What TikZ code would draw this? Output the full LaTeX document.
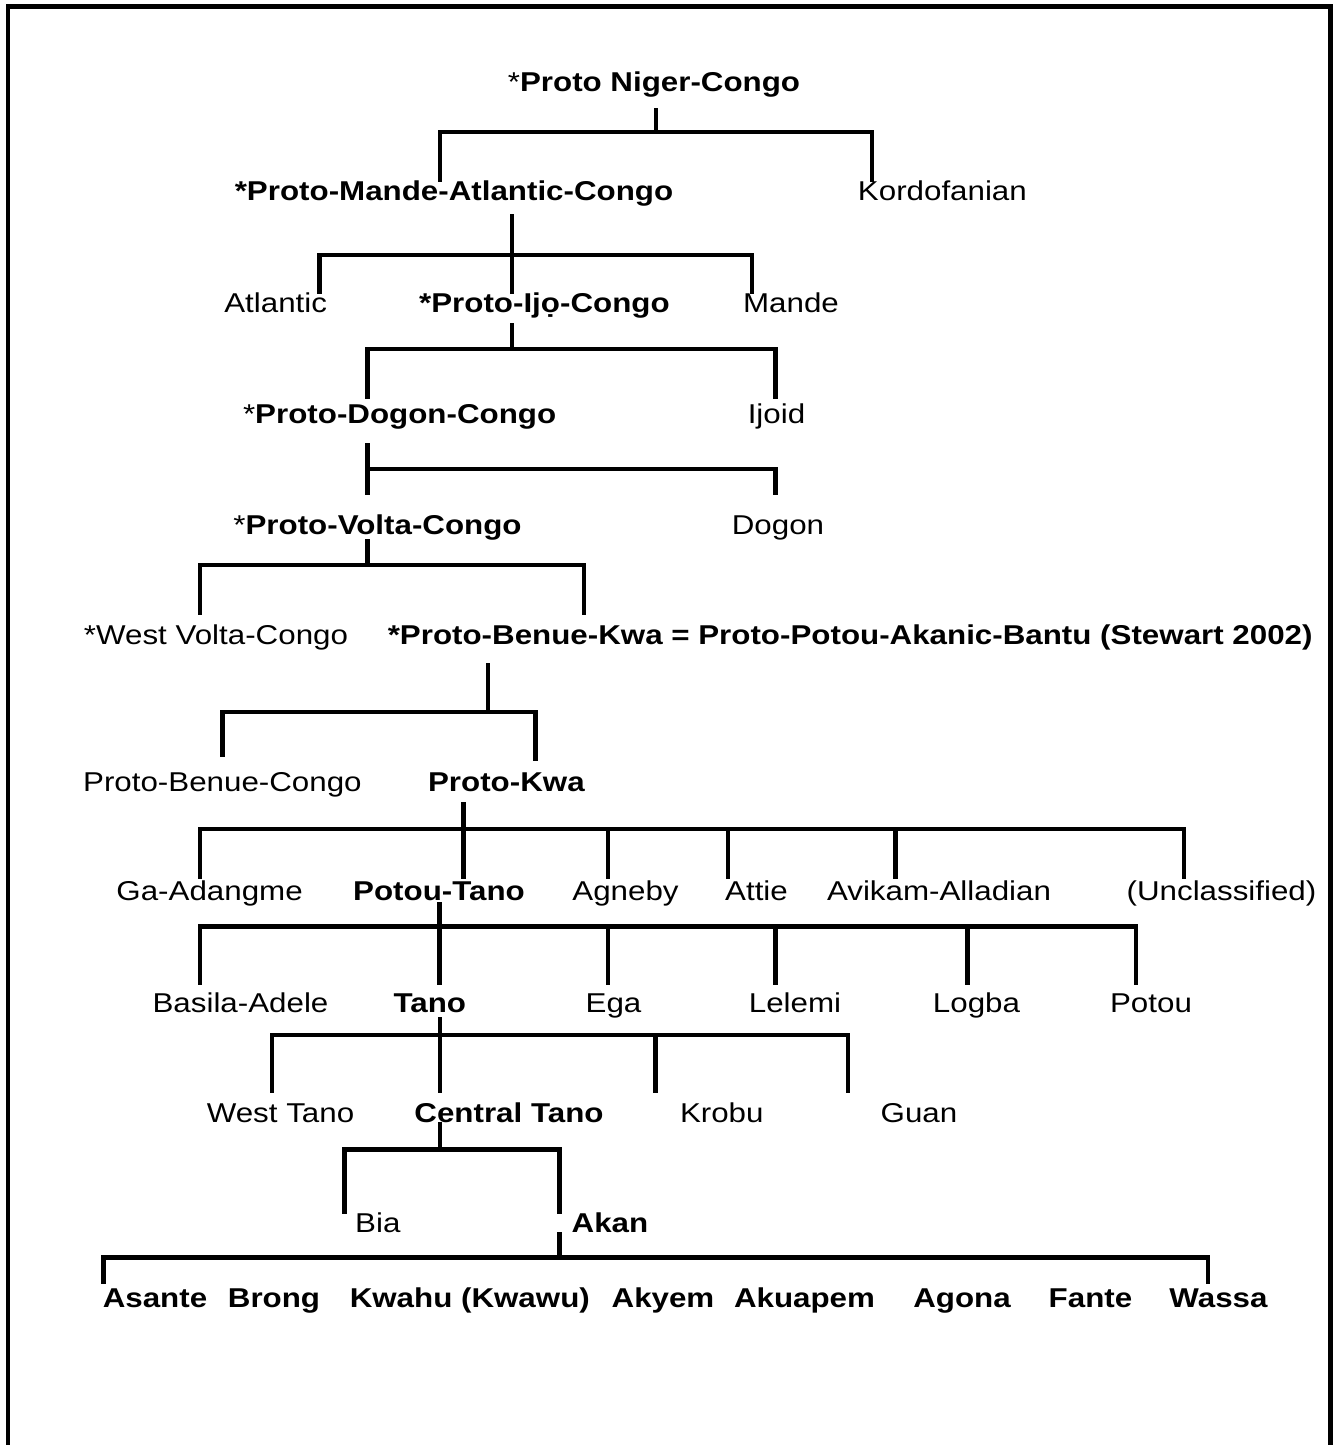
\documentclass[tikz,border=0pt]{standalone}
\usepackage{fontspec}
\setmainfont{Liberation Sans}[FakeStretch=1.15]
\begin{document}
\begin{tikzpicture}[x=0.02cm,y=-0.02cm,
  lbl/.style={anchor=base,inner sep=0,text height=0.4cm,text depth=0.04cm,font=\fontsize{15.5pt}{18pt}\selectfont},
  grp/.style={lbl,font=\fontsize{15.5pt}{18pt}\selectfont\bfseries},
  tree/.style={line width=2.7pt,line cap=rect},
  frame/.style={line width=2.8pt}]
\useasboundingbox (0,0) rectangle (1333,1445);
\draw[frame] (8,1450) -- (8,6.5) -- (1330.5,6.5) -- (1330.5,1450);

% labels, row by row
\node[grp] (pnc) at (654,91) {\textmd{*}Proto Niger-Congo};
\node[grp] (pmac) at (454,200) {*Proto-Mande-Atlantic-Congo};
\node[lbl] (kord) at (942.4,200) {Kordofanian};
\node[lbl] (atl) at (275.7,312) {Atlantic};
\node[grp] (pic) at (544.4,312) {*Proto-Ijọ-Congo};
\node[lbl] (mande) at (791,312) {Mande};
\node[grp] (pdc) at (399.6,423) {\textmd{*}Proto-Dogon-Congo};
\node[lbl] (ijoid) at (776.5,423) {Ijoid};
\node[grp] (pvc) at (377.5,534) {\textmd{*}Proto-Volta-Congo};
\node[lbl] (dogon) at (778,534) {Dogon};
\node[lbl] (wvc) at (216,644) {*West Volta-Congo};
\node[grp] (pbk) at (850.2,644) {*Proto-Benue-Kwa = Proto-Potou-Akanic-Bantu (Stewart 2002)};
\node[lbl] (pbc) at (222.4,791) {Proto-Benue-Congo};
\node[grp] (pkwa) at (506.4,791) {Proto-Kwa};
\node[lbl] (gaad) at (209.6,900) {Ga-Adangme};
\node[grp] (ptano) at (439,900) {Potou-Tano};
\node[lbl] (agneby) at (625.5,900) {Agneby};
\node[lbl] (attie) at (756.5,900) {Attie};
\node[lbl] (avikam) at (939,900) {Avikam-Alladian};
\node[lbl] (uncl) at (1221.5,900) {(Unclassified)};
\node[lbl] (basila) at (240.5,1012) {Basila-Adele};
\node[grp] (tano) at (429.8,1012) {Tano};
\node[lbl] (ega) at (613.5,1012) {Ega};
\node[lbl] (lelemi) at (795,1012) {Lelemi};
\node[lbl] (logba) at (976.5,1012) {Logba};
\node[lbl] (potou) at (1151,1012) {Potou};
\node[lbl] (wtano) at (280.5,1122) {West Tano};
\node[grp] (ctano) at (509,1122) {Central Tano};
\node[lbl] (krobu) at (721.8,1122) {Krobu};
\node[lbl] (guan) at (919,1122) {Guan};
\node[lbl] (bia) at (377.8,1232) {Bia};
\node[grp] (akan) at (610,1232) {Akan};
\node[grp] (asante) at (155,1307) {Asante};
\node[grp] (brong) at (274,1307) {Brong};
\node[grp] (kwahu) at (469.8,1307) {Kwahu (Kwawu)};
\node[grp] (akyem) at (663,1307) {Akyem};
\node[grp] (akuapem) at (804.5,1307) {Akuapem};
\node[grp] (agona) at (962,1307) {Agona};
\node[grp] (fante) at (1090.5,1307) {Fante};
\node[grp] (wassa) at (1218.5,1307) {Wassa};

% Niger-Congo
\coordinate (j0) at (656,132);
\coordinate (j0l) at (440,132);
\coordinate (j0r) at (872,132);
\draw[tree,shorten <=0.34cm] (pnc.south -| j0) -- (j0);
\draw[tree] (pmac.north -| j0l) |- (j0r) -- (kord.north -| j0r);

% Mande-Atlantic-Congo
\coordinate (j1) at (512,255);
\coordinate (j1l) at (319.5,255);
\coordinate (j1r) at (752,255);
\draw[tree,shorten <=0.28cm] (pmac.south -| j1) -- (pic.north -| j1);
\draw[tree] (atl.north -| j1l) |- (j1r) -- (mande.north -| j1r);

% Ijo-Congo
\coordinate (j2) at (512,349);
\coordinate (j2l) at (367.3,349);
\coordinate (j2r) at (775.5,349);
\draw[tree,shorten <=0.22cm] (pic.south -| j2) -- (j2);
\draw[tree,shorten <=0.12cm,shorten >=0.12cm] (pdc.north -| j2l) |- (j2r) -- (ijoid.north -| j2r);

% Dogon-Congo
\coordinate (j3) at (367.3,469);
\coordinate (j3r) at (775.5,469);
\draw[tree,shorten <=0.4cm,shorten >=0.42cm] (pdc.south -| j3) -- (pvc.north -| j3);
\draw[tree,shorten >=0.42cm] (j3) -- (j3r) -- (dogon.north -| j3r);

% Volta-Congo
\coordinate (j4) at (367.3,565);
\coordinate (j4l) at (200,565);
\coordinate (j4r) at (584,565);
\draw[tree,shorten <=0.1cm] (pvc.south -| j4) -- (j4);
\draw[tree,shorten <=0.22cm,shorten >=0.22cm] (wvc.north -| j4l) |- (j4r) -- (pbk.north -| j4r);

% Benue-Kwa
\coordinate (j5) at (488,712);
\coordinate (j5l) at (222.8,712);
\coordinate (j5r) at (535.7,712);
\draw[tree,shorten <=0.38cm] (pbk.south -| j5) -- (j5);
\draw[tree,shorten <=0.32cm,shorten >=0.24cm] (pbc.north -| j5l) |- (j5r) -- (pkwa.north -| j5r);

% Kwa
\coordinate (j6) at (463.4,829);
\draw[tree,shorten <=0.22cm] (pkwa.south -| j6) -- (j6);
\draw[tree] (200,829) -- (1184,829);
\foreach \x/\n in {200/gaad,463.4/ptano,608/agneby,728/attie,895.4/avikam,1184/uncl}
  \draw[tree,shorten >=0.06cm] (\x,829) -- (\n.north -| \x,829);

% Potou-Tano
\coordinate (j7) at (439.6,926.5);
\draw[tree,shorten <=0.04cm] (ptano.south -| j7) -- (j7);
\draw[tree] (200,926.5) -- (1136,926.5);
\foreach \x/\n in {200/basila,439.6/tano,608/ega,775.5/lelemi,967.7/logba,1136/potou}
  \draw[tree,shorten >=0.18cm] (\x,926.5) -- (\n.north -| \x,926.5);

% Tano
\coordinate (j8) at (440,1035);
\draw[tree,shorten <=0.1cm] (tano.south -| j8) -- (j8);
\draw[tree] (272,1035) -- (848,1035);
\foreach \x/\n in {272/wtano,440/ctano,655.6/krobu,848/guan}
  \draw[tree,shorten >=0.22cm] (\x,1035) -- (\n.north -| \x,1035);

% Central Tano
\coordinate (j9) at (440,1149.5);
\coordinate (j9l) at (344.5,1149.5);
\coordinate (j9r) at (559.5,1149.5);
\draw[tree] (ctano.south -| j9) -- (j9);
\draw[tree] (bia.north -| j9l) |- (j9r) -- (akan.north -| j9r);

% Akan
\coordinate (j10) at (559.5,1257.5);
\coordinate (j10l) at (103.7,1257.5);
\coordinate (j10r) at (1208,1257.5);
\draw[tree] (akan.south -| j10) -- (j10);
\draw[tree,shorten <=0.1cm,shorten >=0.1cm] (asante.north -| j10l) |- (j10r) -- (wassa.north -| j10r);
\end{tikzpicture}
\end{document}
